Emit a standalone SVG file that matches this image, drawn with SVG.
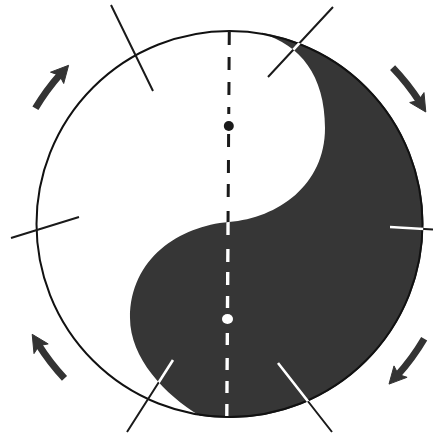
<svg xmlns="http://www.w3.org/2000/svg" width="433" height="436" viewBox="0 0 433 436">
  <style>
    .dark { fill: #363636; }
    .outline { fill: none; stroke: #111; stroke-width: 2; }
    .tick { stroke: #1a1a1a; stroke-width: 2; fill: none; }
    .tickw { stroke: #fff; stroke-width: 2.6; fill: none; }
    .dash { stroke: #1a1a1a; stroke-width: 3; fill: none; }
    .dashw { stroke: #fff; stroke-width: 3.4; fill: none; }
    .shaft { fill: none; stroke: #333; stroke-width: 7; stroke-linecap: butt; }
    .head { fill: #333; stroke: #333; stroke-width: 1; stroke-linejoin: miter; }
  </style>
  <defs>
    <path id="darkShape" d="M 262,32.7 A 194 194 0 0 1 200,415.7 C 165,395 130,358 130,318 C 130,258 180,226 229,222 C 278,218 325,185 325,128 C 325,75 300,45 262,33.5 Z"/>
    <clipPath id="darkClip"><use href="#darkShape"/></clipPath>
    <path id="ticks" d="M 111,5 L 153,91 M 333,7 L 268,77 M 11,238 L 79,217 M 390,227 L 433,229.5 M 173,360 L 127,432 M 278,363 L 332,432"/>
    <path id="dashes" d="M229.3,31 L229.2,45 M229.1,57 L229.05,70 M229,82 L228.9,95 M228.8,107 L228.76,114 M228.6,134 L228.55,147 M228.46,160 L228.4,173 M228.3,184 L228.2,197 M228.1,211 L227.98,235 M227.9,249 L227.8,262 M227.74,272 L227.65,285 M227.58,296 L227.5,308 M227.34,333 L227.26,345 M227.18,358 L227.1,370 M227.03,381 L226.95,393 M226.88,404 L226.8,416"/>
  </defs>
  <rect width="433" height="436" fill="#fff"/>

  <g id="yinyang">
    <circle cx="229.5" cy="224" r="193" fill="#fff"/>
    <use href="#darkShape" class="dark"/>
    <circle cx="229.5" cy="224" r="193" class="outline"/>
  </g>

  <g id="connectors">
    <use href="#ticks" class="tick"/>
    <use href="#dashes" class="dash"/>
    <g clip-path="url(#darkClip)">
      <use href="#ticks" class="tickw"/>
      <use href="#dashes" class="dashw"/>
    </g>
  </g>

  <g id="dots">
    <circle id="dot-black" cx="228.8" cy="126" r="5" fill="#1a1a1a"/>
    <ellipse id="dot-white" cx="227.5" cy="319" rx="5.5" ry="5" fill="#fff"/>
  </g>

  <g id="arrow-top-left">
    <path class="shaft" d="M 35.4,108.3 A 226 226 0 0 1 60.5,74.0"/>
    <path class="head" d="M 68.6,65.3 L 50.5,72.2 L 59.5,75.2 L 63.7,83.5 Z"/>
  </g>
  <g id="arrow-top-right">
    <path class="shaft" d="M 392.6,67.6 A 226 226 0 0 1 419.7,101.9"/>
    <path class="head" d="M 425.8,112.0 L 424.0,92.6 L 418.5,100.5 L 409.7,102.5 Z"/>
  </g>
  <g id="arrow-bottom-right">
    <path class="shaft" d="M 424.2,338.7 A 226 226 0 0 1 397.2,375.5"/>
    <path class="head" d="M 389.0,384.1 L 407.1,377.3 L 398.3,374.4 L 394.0,365.9 Z"/>
  </g>
  <g id="arrow-bottom-left">
    <path class="shaft" d="M 64.5,378.4 A 226 226 0 0 1 38.3,344.4"/>
    <path class="head" d="M 32.2,334.3 L 34.0,353.6 L 39.2,345.6 L 48.2,343.9 Z"/>
  </g>
</svg>
